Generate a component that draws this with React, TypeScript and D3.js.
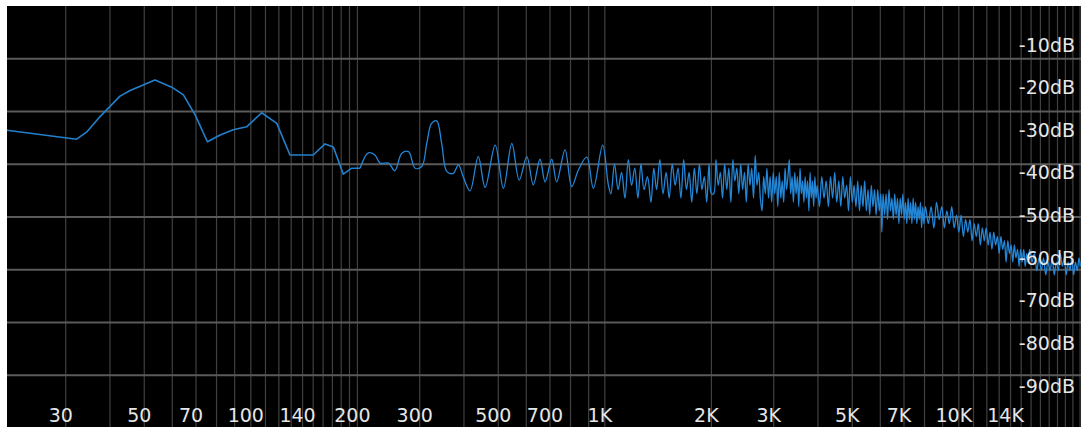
import React from "react";
import * as d3 from "d3";

const WIDTH = 1081;
const HEIGHT = 427;
const PLOT = { left: 7, top: 6, right: 1081, bottom: 427 };

// [Hz, dB]
const lowBand: [number, number][] = [
  [20, -30.0], [32.2, -32.2], [34.5, -30.4], [37.5, -26.9], [42.7, -22.1],
  [45.6, -20.8], [53.6, -18.3], [59.8, -20.0], [64.5, -21.8], [69.6, -26.5],
  [75.4, -32.8], [81.9, -31.2], [89.2, -30.0], [97.3, -29.3], [107.3, -26.0],
  [118.4, -28.5], [129, -35.9], [150, -35.9], [162, -33.3], [171, -34.0],
  [182.5, -40.4], [192.8, -39.0], [203.5, -39.0]
];

const midBand: [number, number][] = [
  [214.7, -35.4], [224, -35.9], [232, -37.8], [245, -37.8], [255, -39.6],
  [267, -35.5], [279, -35.1], [291, -39.0], [304, -38.6], [314, -33.2],
  [324, -28.5], [335, -27.9], [346, -33.2], [358, -39.8], [373, -40.2],
  [386, -38.2], [398, -41.0], [416, -44.3], [439, -36.3], [459, -43.5],
  [490, -33.6], [517, -43.7], [546, -33.2], [573, -41.8], [602, -36.3],
  [628, -42.9], [656, -36.9], [678, -42.2], [708, -36.9], [731, -42.2],
  [772, -34.7], [806, -43.3], [842, -39.4], [889, -36.4], [928, -43.7],
  [986, -33.6], [1023, -42.9]
];

const band1k: [number, number][] = [
  [1040, -45], [1065, -38], [1090, -44], [1115, -40], [1140, -46], [1165, -37],
  [1190, -43], [1215, -39], [1240, -46], [1265, -38], [1290, -44], [1320, -41],
  [1350, -47], [1375, -39], [1400, -44], [1430, -37], [1460, -45], [1490, -40],
  [1520, -46], [1550, -38], [1580, -43], [1610, -39], [1640, -46], [1670, -37],
  [1700, -44], [1730, -40], [1760, -47], [1790, -39], [1820, -45], [1850, -38],
  [1880, -44], [1910, -41], [1940, -47], [1970, -38], [2000, -45]
];

const band2k: [number, number][] = [
  [2030, -45], [2060, -37], [2090, -43], [2120, -40], [2150, -46], [2180, -38],
  [2210, -44], [2240, -39], [2270, -47], [2300, -37], [2330, -42], [2360, -39],
  [2390, -45], [2420, -38], [2450, -44], [2480, -40], [2510, -47], [2540, -38],
  [2570, -43], [2600, -39], [2630, -46], [2660, -36], [2690, -43], [2720, -40],
  [2750, -46], [2780, -49], [2810, -41], [2840, -45], [2870, -39], [2900, -46],
  [2930, -41], [2960, -47], [2990, -40], [3020, -45], [3050, -41], [3080, -48],
  [3110, -40], [3140, -46], [3170, -42], [3200, -47], [3230, -39], [3260, -44],
  [3290, -41], [3320, -37], [3350, -45], [3380, -41], [3410, -47], [3440, -40],
  [3470, -45], [3500, -41], [3530, -48], [3560, -39], [3590, -45], [3620, -42],
  [3650, -47], [3680, -41], [3710, -46], [3740, -42], [3770, -49], [3800, -40],
  [3830, -46], [3860, -42], [3890, -48], [3920, -41], [3950, -46], [3980, -43]
];

const band4k: [number, number][] = [
  [4040, -48], [4100, -41], [4160, -46], [4220, -42], [4280, -48], [4340, -41],
  [4400, -46], [4460, -40], [4520, -47], [4580, -42], [4640, -48], [4700, -41],
  [4760, -46], [4820, -43], [4880, -49], [4940, -41], [5000, -47], [5060, -43],
  [5120, -48], [5180, -42], [5240, -49], [5300, -43], [5360, -48], [5420, -42],
  [5480, -49], [5540, -44], [5600, -50], [5660, -43], [5720, -48], [5780, -44],
  [5840, -50], [5900, -44], [5960, -49], [6020, -45], [6060, -54], [6110, -45],
  [6170, -50], [6230, -45], [6290, -51], [6350, -44], [6410, -49], [6470, -46],
  [6530, -51], [6590, -45], [6650, -50], [6710, -46], [6770, -52], [6830, -46],
  [6890, -50], [6950, -45], [7010, -51], [7070, -47], [7130, -52], [7190, -46],
  [7250, -51], [7310, -47], [7370, -52], [7430, -46], [7490, -51], [7550, -47],
  [7610, -52], [7670, -48], [7730, -51], [7790, -47], [7850, -53], [7910, -48],
  [7970, -52]
];

const band8k: [number, number][] = [
  [8050, -48], [8200, -52], [8350, -48], [8500, -53], [8650, -47], [8800, -51],
  [8950, -48], [9100, -53], [9250, -49], [9400, -52], [9550, -48], [9700, -53],
  [9850, -50], [10000, -54], [10150, -50], [10300, -55], [10450, -51], [10600, -54],
  [10750, -51], [10900, -56], [11050, -52], [11200, -55], [11350, -52], [11500, -57],
  [11650, -53], [11800, -56], [11950, -53], [12100, -57], [12250, -54], [12400, -58],
  [12550, -54], [12700, -57], [12850, -55], [13000, -59], [13150, -55], [13300, -58],
  [13450, -56], [13600, -61], [13750, -56], [13900, -59], [14050, -57], [14200, -61],
  [14350, -57], [14500, -60], [14650, -58], [14800, -62], [14950, -58], [15100, -61],
  [15250, -58], [15400, -62], [15550, -59], [15700, -61], [15850, -58]
];

const band16k: [number, number][] = [
  [16100, -61], [16350, -59], [16600, -63], [16850, -60], [17100, -63], [17350, -60],
  [17600, -64], [17850, -61], [18100, -63], [18350, -60], [18600, -64], [18850, -61],
  [19100, -63], [19350, -59], [19600, -62], [19850, -60], [20100, -64], [20350, -61],
  [20600, -63], [20850, -60], [21100, -64], [21350, -61], [21600, -63], [21850, -60],
  [22050, -62]
];

const gridFreqs = [
  30, 40, 50, 60, 70, 80, 90, 100,
  110, 120, 130, 140, 150, 160, 170, 180, 190, 200,
  300, 400, 500, 600, 700, 800, 900, 1000,
  2000, 3000, 4000, 5000, 6000, 7000, 8000, 9000, 10000,
  11000, 12000, 13000, 14000, 15000, 16000, 17000, 18000, 19000, 20000, 21000, 22000
];

const freqTicks = [30, 50, 70, 100, 140, 200, 300, 500, 700, 1000, 2000, 3000, 5000, 7000, 10000, 14000];
const freqLabels = ["30", "50", "70", "100", "140", "200", "300", "500", "700", "1K", "2K", "3K", "5K", "7K", "10K", "14K"];

const dbTicks = [-10, -20, -30, -40, -50, -60, -70, -80, -90];
const gridRows = [1, 2, 3, 4, 5, 6, 7];

export default function App() {
  const x = d3.scaleLog().domain([20, 22050]).range([3.4, 1080.4]);
  const y = d3.scaleLinear().domain([-10, -90]).range([44.5, 385.8]);
  const row = d3.scaleLinear().domain([0, 8]).range([PLOT.top, HEIGHT + 1]);

  const sharp = d3
    .line<[number, number]>()
    .x(d => x(d[0]))
    .y(d => y(d[1]));
  const smooth = d3
    .line<[number, number]>()
    .x(d => x(d[0]))
    .y(d => y(d[1]))
    .curve(d3.curveCatmullRom.alpha(0.5));

  const restBand = [
    lowBand[lowBand.length - 1],
    ...midBand,
    ...band1k,
    ...band2k,
    ...band4k,
    ...band8k,
    ...band16k
  ];
  const font = "'DejaVu Sans', Verdana, sans-serif";

  return (
    <svg
      width={WIDTH}
      height={HEIGHT}
      style={{ position: "absolute", left: 0, top: 0, display: "block" }}
    >
      <defs>
        <clipPath id="plot">
          <rect x={PLOT.left} y={PLOT.top} width={PLOT.right - PLOT.left} height={PLOT.bottom - PLOT.top} />
        </clipPath>
      </defs>
      <rect width={WIDTH} height={HEIGHT} fill="#ffffff" />
      <rect x={PLOT.left} y={PLOT.top} width={PLOT.right - PLOT.left} height={PLOT.bottom - PLOT.top} fill="#000000" />
      <g clipPath="url(#plot)">
        {gridFreqs.map(f => (
          <line key={f} x1={x(f)} x2={x(f)} y1={PLOT.top} y2={PLOT.bottom} stroke="#404040" strokeWidth={1.2} />
        ))}
        {gridRows.map(r => (
          <line key={r} x1={PLOT.left} x2={PLOT.right} y1={row(r)} y2={row(r)} stroke="#5a5a5a" strokeWidth={2} />
        ))}
        <path d={sharp(lowBand) || ""} fill="none" stroke="#2380cc" strokeWidth={1.6} strokeLinejoin="round" />
        <path d={smooth(restBand) || ""} fill="none" stroke="#2386d6" strokeWidth={1.3} strokeLinejoin="round" />
      </g>
      {dbTicks.map(v => (
        <text key={v} x={1075} y={y(v) + 7} textAnchor="end" fill="#e6e6e6" fontSize={19} fontFamily={font}>
          {v}dB
        </text>
      ))}
      {freqTicks.map((f, i) => (
        <text key={f} x={x(f) - 5} y={422} textAnchor="middle" fill="#e6e6e6" fontSize={19} fontFamily={font}>
          {freqLabels[i]}
        </text>
      ))}
    </svg>
  );
}
